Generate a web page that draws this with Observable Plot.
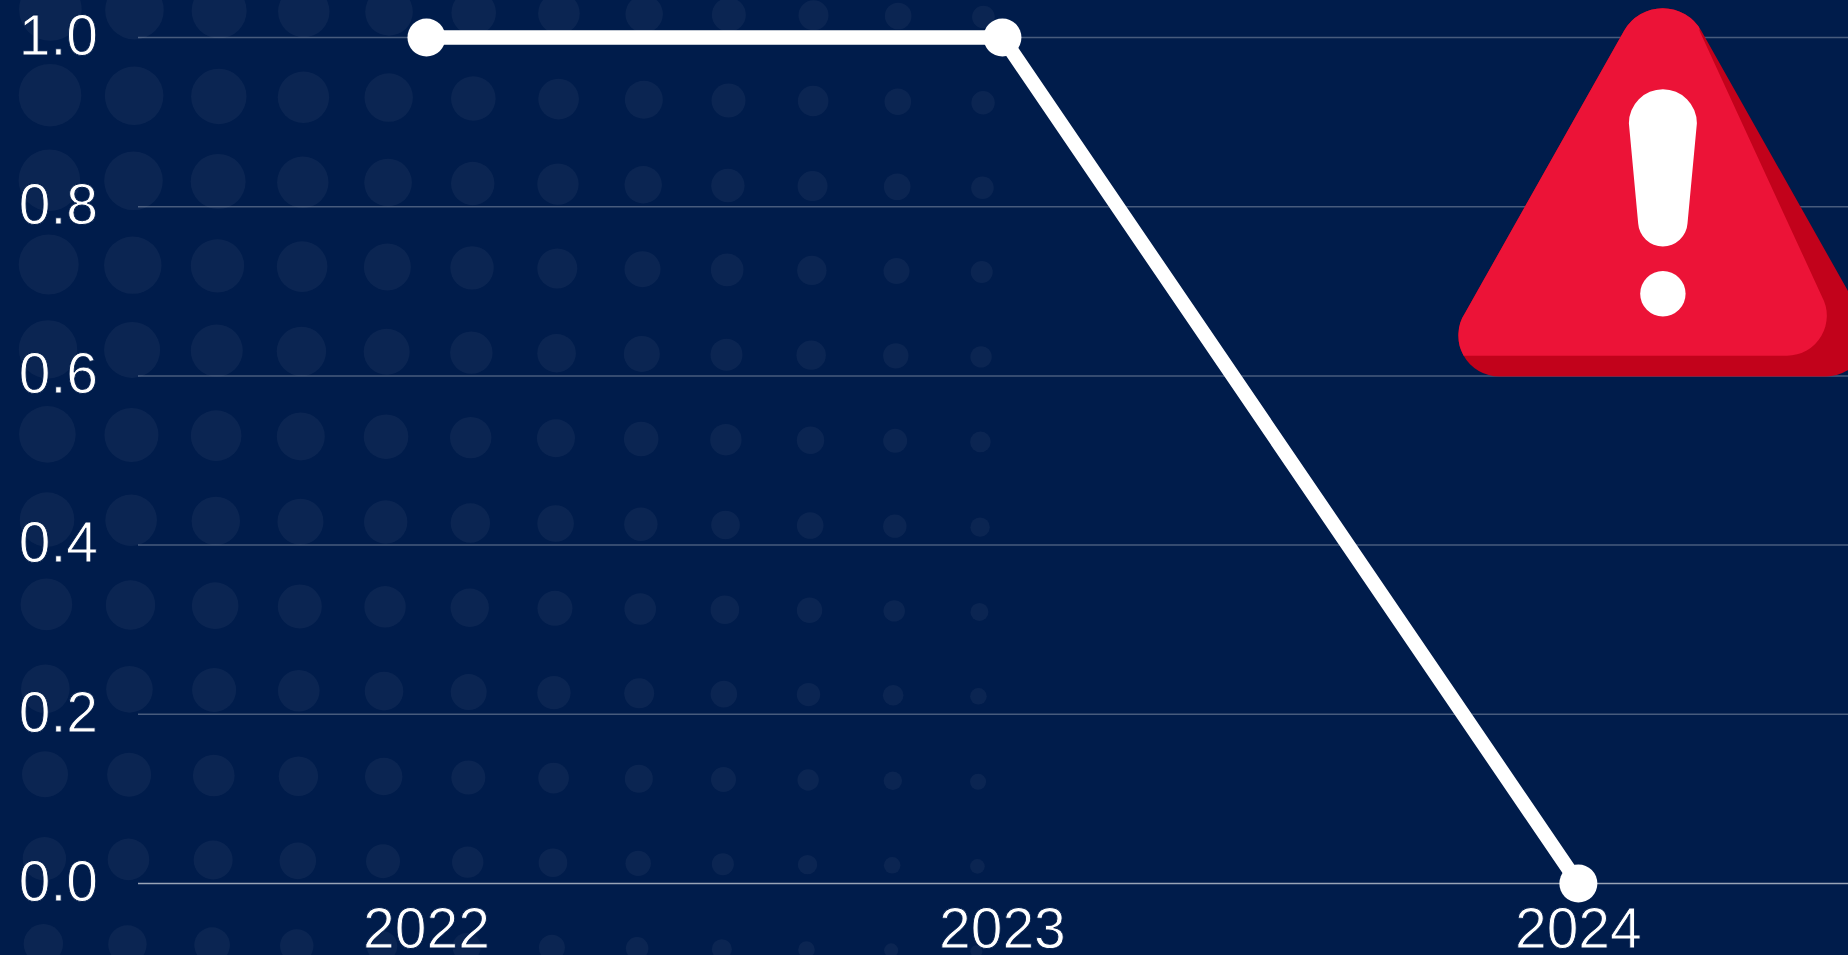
<!DOCTYPE html>
<html>
<head>
<meta charset="utf-8">
<script src="https://cdn.jsdelivr.net/npm/d3@7"></script>
<script src="https://cdn.jsdelivr.net/npm/@observablehq/plot@0.6"></script>
<style>
html,body{margin:0;padding:0;background:#001c4b;overflow:hidden;width:1848px;height:955px}
svg{display:block}
/* Liberation Sans thinned towards the light face of the reference */
svg text{stroke:#001c4b;stroke-width:0.9px;paint-order:fill stroke}
</style>
</head>
<body>
<div id="chart"></div>
<script>
// Line series
const years = [2022, 2023, 2024];
const values = [1, 1, 0];
const yTicks = [0, 0.2, 0.4, 0.6, 0.8, 1];

// Background dot pattern in chart units
const patternColumns = [2021.347, 2021.493, 2021.640, 2021.787, 2021.935, 2022.082, 2022.230, 2022.378, 2022.525, 2022.672, 2022.819, 2022.967];
const patternRows = [1.0331, 0.9318, 0.8313, 0.7316, 0.6314, 0.5309, 0.4301, 0.3299, 0.2302, 0.1292, 0.0292, -0.0713];
const patternRowDrift = [0, -0.0006, -0.0017, -0.0029, -0.0041, -0.0052, -0.0058, -0.0069, -0.0087, -0.0093, -0.0104, -0.0122];
const patternColumnDrift = [0, -0.0007, -0.0015, -0.0024, -0.0028, -0.0039, -0.0046, -0.0054, -0.0063, -0.0069, -0.0077, -0.0089];
const patternRadii = [
  [31.3,29.3,27.5,25.7,23.8,22.3,20.8,18.7,17,15,13.3,11.3],
  [31.3,29.3,27.7,25.7,24.2,22.3,20.3,19,17,15.3,13.3,11.7],
  [30.8,29.3,27.5,25.7,23.8,21.7,20.7,18.7,16.7,15,13.3,11.3],
  [30,28.7,26.7,25.3,23.5,21.7,20,18,16.3,14.7,13,11],
  [29.2,28,26,24.7,23,21.2,19.3,18,16,14.7,12.7,10.7],
  [28.3,27,25.3,24,22.3,20.7,19,17.3,15.7,13.7,12,10.3],
  [27.3,25.8,24.2,23,21.7,19.7,18.3,16.7,14.3,13.3,11.7,9.7],
  [25.8,24.7,23.3,22,20.7,19.2,17.5,15.8,14.3,12.7,10.7,9],
  [24.3,23.3,22,20.8,19.3,18,16.7,15,13.3,11.7,10.3,8.3],
  [23,22,20.8,19.7,18.7,17,15.3,14,12.5,10.7,9.2,8],
  [21.7,20.8,19.5,18.3,17,15.7,14.3,12.7,11,9.7,8.3,7.3],
  [19.7,19.2,17.8,16.7,15.3,14.2,13,11.3,10,8.3,7,6]
];

const lineData = years.map((year, i) => ({year, value: values[i]}));
const patternData = patternRows.flatMap((row, i) => patternColumns.map((col, j) => ({
  x: col + patternRowDrift[i],
  y: row + patternColumnDrift[j],
  r: patternRadii[i][j]
})));

// Warning icon, anchored in chart units
const iconAnchor = {x: 2024.1476, y: 0.6};
const iconOutline = "M183.9,31A44.3,44.3 0 0 1 261.1,31L420,313A41,41 0 0 1 385.3,376.7L60,376.7A41,41 0 0 1 25,313Z";
function warningIcon(index, {x, y}) {
  const g = d3.create("svg:g")
    .attr("transform", `translate(${x(iconAnchor.x) - 222.7},${y(iconAnchor.y) - 375.7})`);
  g.append("clipPath").attr("id", "icon-clip").append("path").attr("d", iconOutline);
  g.append("path").attr("fill", "#c2021b").attr("d", iconOutline);
  g.append("path").attr("fill", "#ec1337").attr("clip-path", "url(#icon-clip)")
    .attr("d", "M0,0L260,0L259.3,31L381.7,296.7A40,40 0 0 1 346.7,356L0,356Z");
  g.append("path").attr("fill", "#fff")
    .attr("d", "M188.7,123.5A34,34 0 0 1 256.7,123.5L247.3,223.7A24.7,24.7 0 0 1 198,223.7Z");
  g.append("circle").attr("cx", 222.7).attr("cy", 294).attr("r", 22.7).attr("fill", "#fff");
  return g.node();
}

const chart = Plot.plot({
  width: 1848,
  height: 955,
  marginLeft: 138,
  marginRight: 0,
  marginTop: 37,
  marginBottom: 72,
  style: {background: "#001c4b", fontFamily: "'Liberation Sans', Arial, sans-serif", color: "#fff"},
  x: {domain: [2021.5, 2024.469], axis: null},
  y: {domain: [0, 1], axis: null},
  r: {type: "identity"},
  marks: [
    Plot.dot(patternData, {x: "x", y: "y", r: "r", fill: "#fff", fillOpacity: 0.042}),
    Plot.ruleY(yTicks.filter(d => d !== 0), {stroke: "#fff", strokeOpacity: 0.28, strokeWidth: 1.5}),
    Plot.ruleY([0], {stroke: "#fff", strokeOpacity: 0.6, strokeWidth: 1.5}),
    warningIcon,
    Plot.axisY({ticks: yTicks, tickSize: 0, tickPadding: 40.5, dy: -1, tickFormat: d3.format(".1f"), fontSize: 57, fill: "#fff", label: null, marginLeft: 138}),
    Plot.axisX({ticks: years, tickSize: 0, tickPadding: 24, tickFormat: d => String(d), fontSize: 57, letterSpacing: "1.6px", fill: "#fff", label: null, marginBottom: 72}),
    Plot.line(lineData, {x: "year", y: "value", stroke: "#fff", strokeWidth: 14.5}),
    Plot.dot(lineData, {x: "year", y: "value", r: 19, fill: "#fff"})
  ]
});
document.getElementById("chart").append(chart);
</script>
</body>
</html>
